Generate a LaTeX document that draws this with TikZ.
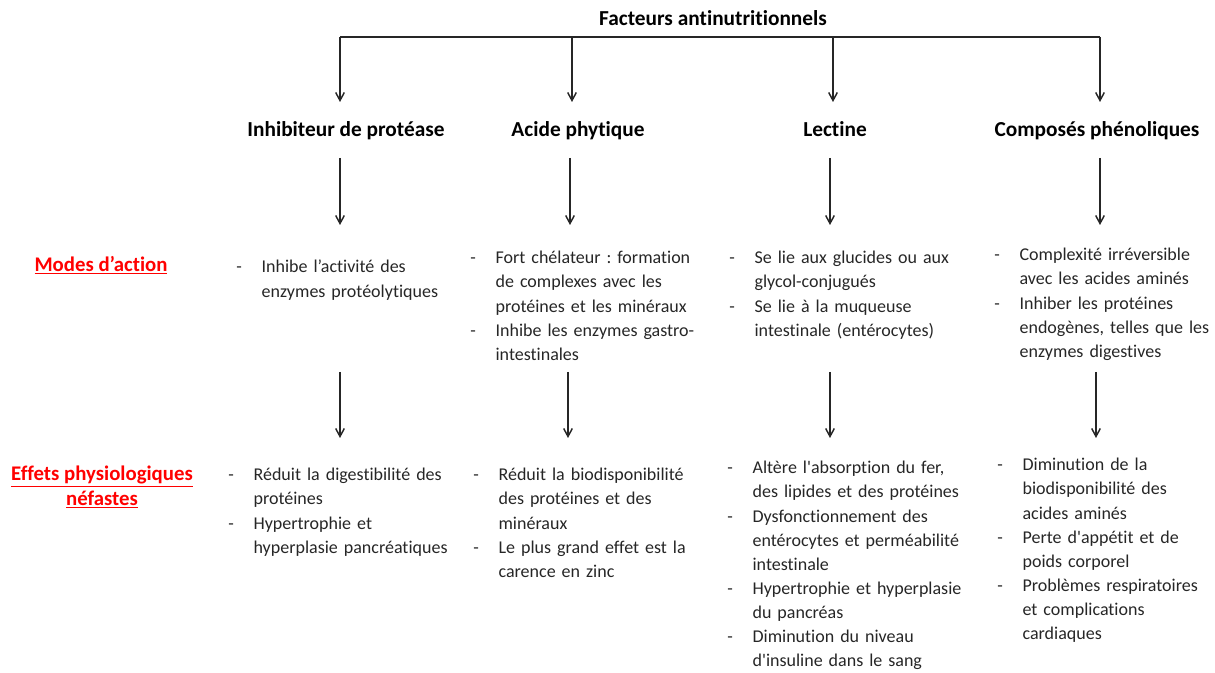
\documentclass[tikz,border=0pt]{standalone}
\usepackage{fontspec}
\setmainfont{Carlito}[Ligatures=CommonOff]
\usetikzlibrary{arrows.meta}
\frenchspacing

% tiret avec retrait suspendu
\newcommand{\tiret}{\leavevmode\hangindent=19pt\hangafter=1\makebox[19pt][l]{-}}
\newcommand{\apos}{\textquotesingle}

\tikzset{
  titre/.style={font=\fontsize{16}{19}\selectfont\bfseries, inner sep=0pt},
  facteur/.style={font=\fontsize{16}{19}\selectfont\bfseries, inner sep=0pt, anchor=base},
  rubrique/.style={font=\fontsize{15.6}{18.6}\selectfont\bfseries, text=red, align=center, inner sep=0pt},
  liste/.style={font=\fontsize{13.5}{18.1}\selectfont, text=black!85, align=left,
    text width=200pt, anchor=north west, inner sep=0pt},
  fleche/.style={-{Straight Barb[length=6pt,width=6.5pt]}, line width=1.1pt, black!85},
}

\begin{document}
\begin{tikzpicture}[x=0.75pt, y=-0.75pt]
  \useasboundingbox (0,0) rectangle (1215,673);

  \node[titre] (fan) at (713,18) {Facteurs antinutritionnels};

  % les quatre facteurs
  \node[facteur] (ip)  at (346,137) {Inhibiteur de protéase};
  \node[facteur] (ap)  at (578,137) {Acide phytique};
  \node[facteur] (lec) at (835,137) {Lectine};
  \node[facteur] (cp)  at (1097,137) {Composés phénoliques};

  % rubriques
  \node[rubrique] (modes) at (101,265) {\underline{Modes d’action}};
  \node[rubrique] (effets) at (102,487) {\underline{Effets physiologiques}\\\underline{néfastes}};

  % modes d'action
  \node[liste] (m1) at (236,260) {\tiret Inhibe l’activité des\newline enzymes protéolytiques\par};
  \node[liste] (m2) at (470,251) {\tiret Fort chélateur : formation\newline de complexes avec les\newline protéines et les minéraux
    \par\tiret Inhibe les enzymes gastro-\newline intestinales\par};
  \node[liste] (m3) at (729,251) {\tiret Se lie aux glucides ou aux\newline glycol-conjugués
    \par\tiret Se lie à la muqueuse\newline intestinale (entérocytes)\par};
  \node[liste] (m4) at (994,248) {\tiret Complexité irréversible\newline avec les acides aminés
    \par\tiret Inhiber les protéines\newline endogènes, telles que les\newline enzymes digestives\par};

  % effets physiologiques
  \node[liste] (e1) at (228,468) {\tiret Réduit la digestibilité des\newline protéines
    \par\tiret Hypertrophie et\newline hyperplasie pancréatiques\par};
  \node[liste] (e2) at (473,468) {\tiret Réduit la biodisponibilité\newline des protéines et des\newline minéraux
    \par\tiret Le plus grand effet est la\newline carence en zinc\par};
  \node[liste] (e3) at (727,461) {\tiret Altère l\apos absorption du fer,\newline des lipides et des protéines
    \par\tiret Dysfonctionnement des\newline entérocytes et perméabilité\newline intestinale
    \par\tiret Hypertrophie et hyperplasie\newline du pancréas
    \par\tiret Diminution du niveau\newline d\apos insuline dans le sang\par};
  \node[liste] (e4) at (997,458) {\tiret Diminution de la\newline biodisponibilité des\newline acides aminés
    \par\tiret Perte d\apos appétit et de\newline poids corporel
    \par\tiret Problèmes respiratoires\newline et complications\newline cardiaques\par};

  % accolade du haut
  \coordinate (b1) at (340,37);
  \coordinate (b2) at (572,37);
  \coordinate (b3) at (833,37);
  \coordinate (b4) at (1100,37);
  \draw[line width=1.1pt, black!85] (b1) -- (b4);

  % fleches
  \foreach \n/\x/\y/\l in {b1/340/37/65, b2/572/37/65, b3/833/37/65, b4/1100/37/65,
      h1/340/158/67, h2/570/158/67, h3/830/158/67, h4/1100/158/67,
      d1/340/372/66, d2/568/372/66, d3/830/372/66, d4/1096/372/66}{
    \coordinate (\n-haut) at (\x,\y);
    \coordinate (\n-bas) at (\x,\y+\l);
    \draw[fleche] (\n-haut) -- (\n-bas);
  }
\end{tikzpicture}
\end{document}
